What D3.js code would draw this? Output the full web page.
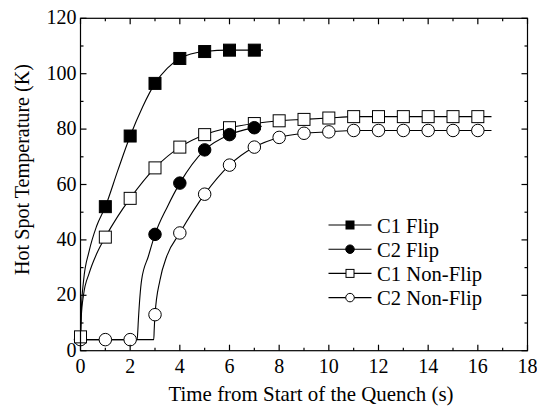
<!DOCTYPE html>
<html><head><meta charset="utf-8">
<script src="https://cdn.jsdelivr.net/npm/d3@7"></script>
<style>body{margin:0;background:#fff}svg{display:block}text{font-family:"Liberation Serif","Times New Roman",serif;fill:#000}</style>
</head><body><div id="chart"></div>
<script>
// measured points
const c1FlipT = [1,2,3,4,5,6,7];
const c1FlipV = [52,77.5,96.5,105.5,108,108.5,108.5];
const c2FlipT = [3,4,5,6,7];
const c2FlipV = [42,60.5,72.5,78,80.5];
const c1NonT = [0,1,2,3,4,5,6,7,8,9,10,11,12,13,14,15,16];
const c1NonV = [5,41,55,66,73.5,78,80.5,82,83,83.5,84,84.5,84.5,84.5,84.5,84.5,84.5];
const c2NonT = [0,1,2,3,4,5,6,7,8,9,10,11,12,13,14,15,16];
const c2NonV = [4,4,4,13,42.5,56.5,67,73.5,77,78.5,79,79.5,79.5,79.5,79.5,79.5,79.5];
// fitted curve knots
const c1FlipFitT = [0,0.03,0.12,0.35,0.65,1,1.5,2,2.5,3,3.5,4,5,6,7,7.35];
const c1FlipFitV = [4,14,25,36,45,52,65,77.5,88,96.5,102,105.5,108,108.5,108.5,108.5];
const c1NonFitT = [0,0.03,0.12,0.35,0.65,1,1.5,2,3,4,5,6,7,8,9,10,11,12,13,14,15,16,16.55];
const c1NonFitV = [4,12,20,28,35,41,48.5,55,66,73.5,78,80.5,82,83,83.5,84,84.5,84.5,84.5,84.5,84.5,84.5,84.5];
const c2FlipFitT = [0,2.28,2.3,2.33,2.46,2.73,3,3.5,4,5,6,7,7.3];
const c2FlipFitV = [4,4,6,11,25.5,34,42,52,60.5,72.5,78,80.5,81];
const c2NonFitT = [0,1,2,2.95,2.97,3,3.2,3.47,4,5,6,7,8,9,10,11,12,13,14,15,16,16.55];
const c2NonFitV = [4,4,4,4,8,13,25.5,34,42.5,56.5,67,73.5,77,78.5,79,79.5,79.5,79.5,79.5,79.5,79.5,79.5];
const legendLabels = ["C1 Flip","C2 Flip","C1 Non-Flip","C2 Non-Flip"];
const xTicks = [0,2,4,6,8,10,12,14,16,18];
const yTicks = [0,20,40,60,80,100,120];

const W=537,H=409;
const L=80.5,R=527.5,T=18.3,B=350.7;
const svg=d3.select("#chart").append("svg").attr("width",W).attr("height",H);
const x=d3.scaleLinear().domain([0,18]).range([L,R]);
const y=d3.scaleLinear().domain([0,120]).range([B,T]);

const zip=(a,b)=>a.map((d,i)=>[d,b[i]]);
const line=d3.line().x(d=>x(d[0])).y(d=>y(d[1])).curve(d3.curveMonotoneX);
[[c1FlipFitT,c1FlipFitV],[c1NonFitT,c1NonFitV],[c2FlipFitT,c2FlipFitV],[c2NonFitT,c2NonFitV]].forEach(([t,v])=>{
  svg.append("path").attr("d",line(zip(t,v))).attr("fill","none").attr("stroke","#000").attr("stroke-width",1.1);
});

function marker(g,shape,filled,cx,cy,s){
  if(shape==="sq") g.append("rect").attr("x",cx-s/2).attr("y",cy-s/2).attr("width",s).attr("height",s)
    .attr("fill",filled?"#000":"#fff").attr("stroke","#000").attr("stroke-width",1);
  else g.append("circle").attr("cx",cx).attr("cy",cy).attr("r",s/2)
    .attr("fill",filled?"#000":"#fff").attr("stroke","#000").attr("stroke-width",1);
}
const series=[
  {t:c2NonT,v:c2NonV,shape:"ci",filled:false},
  {t:c1NonT,v:c1NonV,shape:"sq",filled:false},
  {t:c2FlipT,v:c2FlipV,shape:"ci",filled:true},
  {t:c1FlipT,v:c1FlipV,shape:"sq",filled:true}
];
series.forEach(s=>{
  const g=svg.append("g");
  s.t.forEach((t,i)=>marker(g,s.shape,s.filled,x(t),y(s.v[i]),s.shape==="sq"?12:12.5));
});

// frame and ticks
const ax=svg.append("g");
ax.append("rect").attr("x",L).attr("y",T).attr("width",R-L).attr("height",B-T).attr("fill","none").attr("stroke","#000").attr("stroke-width",1.2);
d3.range(0,19,1).forEach(v=>{
  const len=v%2===0?6:3;
  ax.append("line").attr("x1",x(v)).attr("x2",x(v)).attr("y1",B).attr("y2",B-len).attr("stroke","#000").attr("stroke-width",1.2);
  ax.append("line").attr("x1",x(v)).attr("x2",x(v)).attr("y1",T).attr("y2",T+len).attr("stroke","#000").attr("stroke-width",1.2);
});
d3.range(0,121,10).forEach(v=>{
  const len=v%20===0?6:3;
  ax.append("line").attr("y1",y(v)).attr("y2",y(v)).attr("x1",L).attr("x2",L+len).attr("stroke","#000").attr("stroke-width",1.2);
  ax.append("line").attr("y1",y(v)).attr("y2",y(v)).attr("x1",R).attr("x2",R-len).attr("stroke","#000").attr("stroke-width",1.2);
});
xTicks.forEach(v=>svg.append("text").attr("x",x(v)).attr("y",B+22).attr("text-anchor","middle").attr("font-size",20).text(v));
yTicks.forEach(v=>svg.append("text").attr("x",L-4).attr("y",y(v)+6).attr("text-anchor","end").attr("font-size",20).text(v));
svg.append("text").attr("x",168.5).attr("y",401).attr("font-size",22)
  .attr("textLength",285).attr("lengthAdjust","spacingAndGlyphs").text("Time from Start of the Quench (s)");
svg.append("text").attr("transform",`translate(29,275) rotate(-90)`).attr("font-size",21)
  .attr("textLength",211).attr("lengthAdjust","spacingAndGlyphs").text("Hot Spot Temperature (K)");

// legend
const lg=svg.append("g");
const shapes=[["sq",true],["ci",true],["sq",false],["ci",false]];
const legendWidths=[62,62,105,105];
legendLabels.forEach((lab,i)=>{
  const yy=225+i*24.2;
  lg.append("line").attr("x1",328.5).attr("x2",371.5).attr("y1",yy).attr("y2",yy).attr("stroke","#000").attr("stroke-width",1.1);
  marker(lg,shapes[i][0],shapes[i][1],350,yy,shapes[i][0]==="sq"?8:8.5);
  lg.append("text").attr("x",377).attr("y",yy+7.5).attr("font-size",22)
    .attr("textLength",legendWidths[i]).attr("lengthAdjust","spacingAndGlyphs").text(lab);
});
</script></body></html>
